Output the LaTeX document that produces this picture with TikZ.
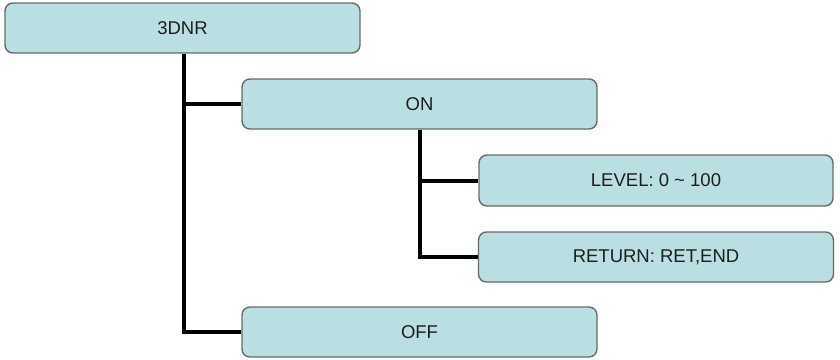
\documentclass[tikz,border=0pt]{standalone}
\usepackage{fontspec}
\setmainfont{Liberation Sans}
\definecolor{boxfill}{HTML}{B9DFE3}
\definecolor{boxline}{HTML}{6A6A6A}
\definecolor{txt}{HTML}{1E1E1E}
\begin{document}
\begin{tikzpicture}[x=1pt,y=-1pt,
  menubox/.style={draw=boxline,line width=1.4pt,fill=boxfill,rounded corners=8pt,
    minimum height=50pt,minimum width=355pt,inner sep=0pt,text=txt,
    font=\fontsize{18.5}{22}\selectfont},
  link/.style={line width=4pt,black}]
\useasboundingbox (0,0) rectangle (840,359);
\node[menubox] (n3dnr) at (182.5,28) {3DNR};
\node[menubox] (on) at (419.5,104) {ON};
\node[menubox,minimum width=354pt,minimum height=51pt] (level) at (656,180.5) {LEVEL: 0 \char`\~{} 100};
\node[menubox] (ret) at (656,257) {RETURN: RET,END};
\node[menubox] (off) at (419.5,332) {OFF};
\coordinate (j1) at (184,104);
\coordinate (j2) at (420,180.5);
\begin{scope}[on background layer/.try]
\end{scope}
\draw[link] (n3dnr.south -| j1) |- (off.west);
\draw[link] (j1) -- (on.west);
\draw[link] (on.south -| j2) |- (ret.west);
\draw[link] (j2) -- (level.west);
\end{tikzpicture}
\end{document}
